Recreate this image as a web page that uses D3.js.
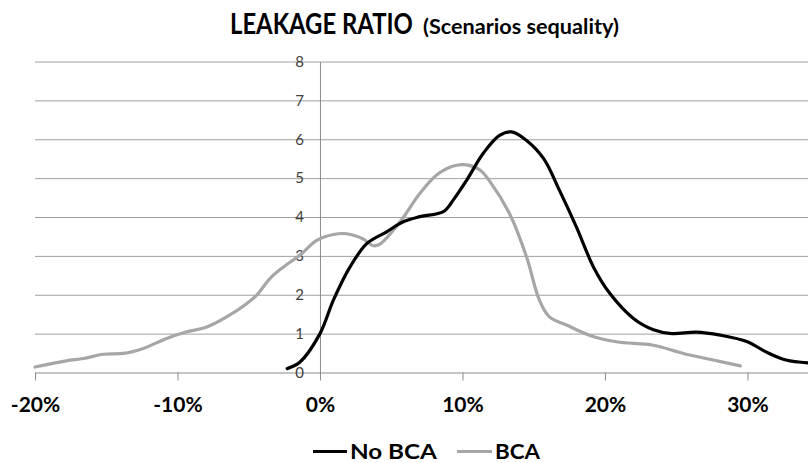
<!DOCTYPE html>
<html><head><meta charset="utf-8">
<script src="https://cdn.jsdelivr.net/npm/d3@7"></script>
<style>html,body{margin:0;padding:0;background:#fff;}svg{display:block;}</style>
</head><body>
<svg id="c" width="808" height="463"></svg>
<script>
const noBcaX = [-0.023,-0.014,0,0.0094,0.021,0.033,0.0468,0.0585,0.0702,0.0866,0.0936,0.103,0.1146,0.126,0.1345,0.145,0.157,0.168,0.180,0.192,0.2035,0.22,0.234,0.247,0.264,0.281,0.30,0.313,0.327,0.3425];
const noBcaY = [0.1,0.27,1.0,1.86,2.71,3.32,3.62,3.88,4.01,4.14,4.44,4.95,5.64,6.1,6.19,5.97,5.5,4.69,3.74,2.71,2.03,1.39,1.1,1.0,1.04,0.96,0.79,0.53,0.32,0.25];
const bcaX = [-0.2,-0.178,-0.166,-0.152,-0.138,-0.124,-0.108,-0.094,-0.0795,-0.0655,-0.0515,-0.0444,-0.035,-0.0258,-0.014,-0.0023,0.0094,0.0187,0.030,0.0374,0.042,0.0562,0.0702,0.0819,0.0936,0.103,0.1123,0.1193,0.133,0.145,0.154,0.161,0.173,0.189,0.208,0.234,0.255,0.276,0.295];
const bcaY = [0.14,0.3,0.36,0.47,0.49,0.62,0.87,1.04,1.17,1.43,1.77,1.99,2.42,2.71,3.02,3.4,3.55,3.57,3.44,3.26,3.3,3.88,4.61,5.08,5.31,5.34,5.21,4.91,4.09,2.97,1.86,1.43,1.22,0.96,0.79,0.7,0.49,0.32,0.17];
const xTicks = [-0.2,-0.1,0,0.1,0.2,0.3];
const xTickLabels = ["-20%","-10%","0%","10%","20%","30%"];
const yTicks = [0,1,2,3,4,5,6,7,8];
const seriesNames = ["No BCA","BCA"];
const seriesColors = ["#000000","#a6a6a6"];
const titleMain = "LEAKAGE RATIO";
const titleSub = "(Scenarios sequality)";

const svg = d3.select("#c");
const x = d3.scaleLinear().domain([-0.2, 0.3425]).range([35, 808]);
const y = d3.scaleLinear().domain([0, 8]).range([372.5, 61.5]);
const FONT = "Lato, 'Open Sans', sans-serif";

// fit a text to a width by horizontal scaling
function fitText(str, px, py, w, size, weight) {
  const t = svg.append("text").attr("x", 0).attr("y", 0).text(str)
    .style("font-family", FONT).style("font-size", size + "px").style("font-weight", weight);
  const nat = t.node().getComputedTextLength();
  t.attr("transform", `translate(${px},${py}) scale(${w / nat},1)`);
  return t;
}

// gridlines
const grid = svg.append("g").attr("transform", `translate(${x(-0.2)},0)`)
  .call(d3.axisRight(y).tickValues(yTicks.filter(d=>d>0)).tickSize(808 - x(-0.2)).tickFormat(""));
grid.select(".domain").remove();
grid.selectAll("line").attr("stroke", "#a0a0a0").attr("stroke-width", 1);

// x axis
const xa = svg.append("g").attr("transform", `translate(0,${y(0)})`)
  .call(d3.axisBottom(x).tickValues(xTicks).tickSize(8).tickFormat((d, i) => xTickLabels[i]));
xa.select(".domain").attr("stroke", "#8c8c8c").attr("d", `M${x(-0.2)},0.5H808`);
xa.selectAll("line").attr("stroke", "#8c8c8c");
xa.selectAll("text").attr("y", 39.5).attr("dy", 0).attr("fill", "#000")
  .style("font-family", FONT).style("font-size", "21px").style("font-weight", "bold");

// y axis
const ya = svg.append("g").attr("transform", `translate(${x(0)},0)`)
  .call(d3.axisLeft(y).tickValues(yTicks).tickSize(0).tickPadding(16));
ya.select(".domain").attr("stroke", "#8c8c8c");
ya.selectAll("text").attr("fill", "#404040").style("font-family", FONT).style("font-size", "15px");

// lines
const line = d3.line().x(d => x(d[0])).y(d => y(d[1])).curve(d3.curveCatmullRom.alpha(0.5));
const data = [d3.zip(noBcaX, noBcaY), d3.zip(bcaX, bcaY)];
[1, 0].forEach(i => {
  svg.append("path").datum(data[i]).attr("d", line)
    .attr("fill", "none").attr("stroke", seriesColors[i]).attr("stroke-width", 3.2)
    .attr("stroke-linejoin", "round").attr("stroke-linecap", "round");
});

// title
fitText(titleMain, 230, 33.5, 183, 29, "bold");
fitText(titleSub, 423, 33.5, 196, 21, "bold");

// legend
const leg = [{x1:313,x2:347,tx:350,tw:87},{x1:457,x2:492,tx:495,tw:45}];
leg.forEach((l, i) => {
  svg.append("line").attr("x1", l.x1).attr("x2", l.x2).attr("y1", 451.5).attr("y2", 451.5)
    .attr("stroke", seriesColors[i]).attr("stroke-width", 3.2);
  fitText(seriesNames[i], l.tx, 458.5, l.tw, 21, "bold");
});
</script>
</body></html>
